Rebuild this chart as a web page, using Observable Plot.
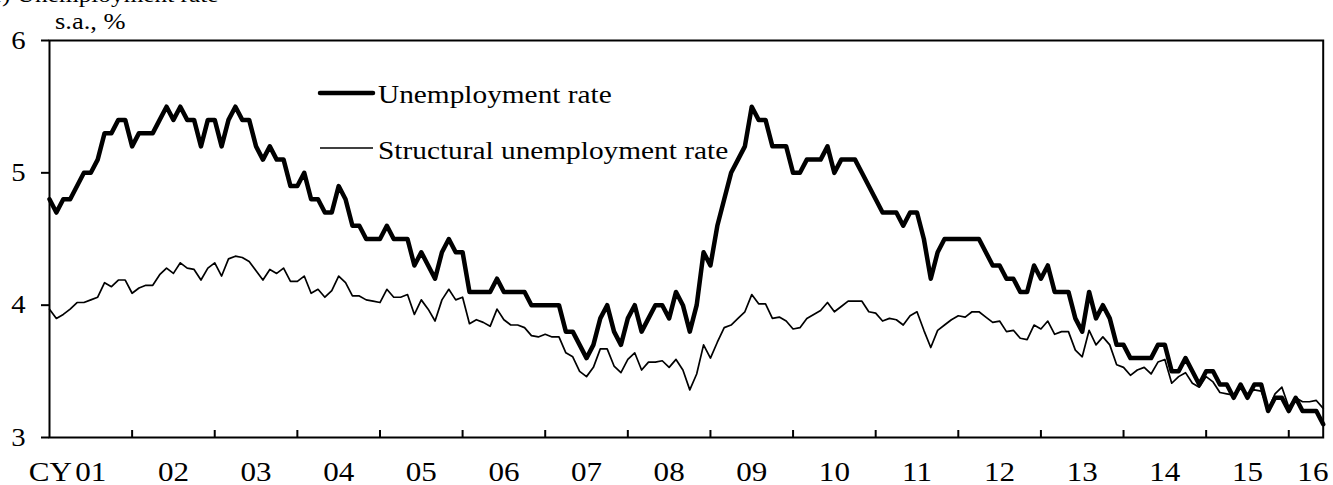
<!DOCTYPE html>
<html>
<head>
<meta charset="utf-8">
<script src="https://cdn.jsdelivr.net/npm/d3@7"></script>
<script src="https://cdn.jsdelivr.net/npm/@observablehq/plot@0.6"></script>
<style>
  html, body { margin: 0; padding: 0; background: white; }
</style>
</head>
<body>
<div id="chart"></div>
<script>
// Monthly data, Jan 2001 – Jun 2016 (s.a., %)
const unemployment = [
  4.8,4.7,4.8,4.8,4.9,5.0,5.0,5.1,5.3,5.3,5.4,5.4, // 2001
  5.2,5.3,5.3,5.3,5.4,5.5,5.4,5.5,5.4,5.4,5.2,5.4, // 2002
  5.4,5.2,5.4,5.5,5.4,5.4,5.2,5.1,5.2,5.1,5.1,4.9, // 2003
  4.9,5.0,4.8,4.8,4.7,4.7,4.9,4.8,4.6,4.6,4.5,4.5, // 2004
  4.5,4.6,4.5,4.5,4.5,4.3,4.4,4.3,4.2,4.4,4.5,4.4, // 2005
  4.4,4.1,4.1,4.1,4.1,4.2,4.1,4.1,4.1,4.1,4.0,4.0, // 2006
  4.0,4.0,4.0,3.8,3.8,3.7,3.6,3.7,3.9,4.0,3.8,3.7, // 2007
  3.9,4.0,3.8,3.9,4.0,4.0,3.9,4.1,4.0,3.8,4.0,4.4, // 2008
  4.3,4.6,4.8,5.0,5.1,5.2,5.5,5.4,5.4,5.2,5.2,5.2, // 2009
  5.0,5.0,5.1,5.1,5.1,5.2,5.0,5.1,5.1,5.1,5.0,4.9, // 2010
  4.8,4.7,4.7,4.7,4.6,4.7,4.7,4.5,4.2,4.4,4.5,4.5, // 2011
  4.5,4.5,4.5,4.5,4.4,4.3,4.3,4.2,4.2,4.1,4.1,4.3, // 2012
  4.2,4.3,4.1,4.1,4.1,3.9,3.8,4.1,3.9,4.0,3.9,3.7, // 2013
  3.7,3.6,3.6,3.6,3.6,3.7,3.7,3.5,3.5,3.6,3.5,3.4, // 2014
  3.5,3.5,3.4,3.4,3.3,3.4,3.3,3.4,3.4,3.2,3.3,3.3, // 2015
  3.2,3.3,3.2,3.2,3.2,3.1                          // 2016
];
const structural = [
  3.97,3.90,3.93,3.97,4.02,4.02,4.04,4.06,4.17,4.14,4.19,4.19, // 2001
  4.09,4.13,4.15,4.15,4.23,4.28,4.24,4.32,4.28,4.27,4.19,4.28, // 2002
  4.32,4.22,4.35,4.37,4.36,4.33,4.26,4.19,4.27,4.24,4.28,4.18, // 2003
  4.18,4.22,4.09,4.12,4.06,4.11,4.22,4.17,4.07,4.07,4.04,4.03, // 2004
  4.02,4.12,4.06,4.06,4.08,3.93,4.04,3.97,3.88,4.04,4.12,4.04, // 2005
  4.06,3.86,3.89,3.87,3.84,3.97,3.89,3.85,3.85,3.83,3.77,3.76, // 2006
  3.78,3.76,3.76,3.64,3.61,3.50,3.46,3.53,3.67,3.67,3.54,3.49, // 2007
  3.59,3.64,3.51,3.57,3.57,3.58,3.53,3.59,3.51,3.36,3.48,3.70, // 2008
  3.60,3.72,3.83,3.85,3.90,3.95,4.08,4.01,4.01,3.90,3.91,3.88, // 2009
  3.82,3.83,3.90,3.93,3.96,4.02,3.95,3.99,4.03,4.03,4.03,3.95, // 2010
  3.94,3.88,3.90,3.89,3.85,3.92,3.95,3.81,3.68,3.81,3.85,3.89, // 2011
  3.92,3.91,3.95,3.95,3.91,3.87,3.88,3.80,3.81,3.75,3.74,3.85, // 2012
  3.82,3.88,3.78,3.80,3.80,3.66,3.61,3.81,3.70,3.76,3.70,3.55, // 2013
  3.53,3.47,3.51,3.53,3.48,3.57,3.59,3.41,3.46,3.49,3.41,3.38, // 2014
  3.46,3.42,3.34,3.33,3.32,3.37,3.33,3.36,3.35,3.21,3.33,3.38, // 2015
  3.23,3.30,3.27,3.27,3.28,3.22                                // 2016
];
const yearLabels = ["01","02","03","04","05","06","07","08","09","10","11","12","13","14","15","16"];
const yTicks = [3, 4, 5, 6];
const seriesNames = ["Unemployment rate", "Structural unemployment rate"];
const unitLabel = "s.a., %";
const titleText = "(1) Unemployment rate";

const lastIndex = unemployment.length - 1;
const uRows = unemployment.map((v, i) => ({i, v}));
const sRows = structural.map((v, i) => ({i, v}));
const yearStarts = yearLabels.slice(1).map((_, k) => (k + 1) * 12);
const labelRows = yearLabels.map((label, k) => ({
  label,
  pos: Math.min(k * 12 + 6, lastIndex - 1.5)
}));

const FONT = "'Liberation Serif', 'Times New Roman', Times, serif";

const chart = Plot.plot({
  width: 1333,
  height: 485,
  marginLeft: 49,
  marginRight: 10.3,
  marginTop: 40,
  marginBottom: 48,
  style: {fontFamily: FONT, background: "white", color: "black", overflow: "visible"},
  x: {domain: [0, lastIndex], axis: null},
  y: {domain: [3, 6]},
  marks: [
    Plot.line(uRows, {x: "i", y: "v", stroke: "black", strokeWidth: 4.5, strokeLinejoin: "round"}),
    Plot.line(sRows, {x: "i", y: "v", stroke: "black", strokeWidth: 1.7, strokeLinejoin: "round"}),
    Plot.frame({stroke: "black", strokeWidth: 2}),
    Plot.tickX(yearStarts, {x: d => d, insetTop: 390, stroke: "black", strokeWidth: 2}),
    Plot.axisY({ticks: yTicks, tickSize: 8, tickPadding: 16, fontSize: 25, tickFormat: d => String(d), label: null, strokeWidth: 2}),
    Plot.text(labelRows, {x: "pos", text: "label", frameAnchor: "bottom", lineAnchor: "middle", dy: 35, fontSize: 27, fill: "black"}),
    Plot.text(labelRows.slice(0, 1), {x: "pos", text: () => "CY", frameAnchor: "bottom", lineAnchor: "middle", dy: 35, dx: -19, textAnchor: "end", fontSize: 27, fill: "black"})
  ]
});

document.getElementById("chart").appendChild(chart);

const svg = d3.select(chart);
// title, cut off at the top edge as in the reference
svg.append("text").attr("x", -19).attr("y", 2).attr("font-size", 22).attr("font-family", FONT)
  .attr("fill", "black").attr("text-anchor", "start").text(titleText);
// unit label
svg.append("text").attr("x", 55).attr("y", 29).attr("font-size", 23).attr("font-family", FONT)
  .attr("fill", "black").attr("text-anchor", "start").text(unitLabel);
// legend
const lg = svg.append("g");
lg.append("line").attr("x1", 320).attr("x2", 373).attr("y1", 93).attr("y2", 93)
  .attr("stroke", "black").attr("stroke-width", 4.5).attr("stroke-linecap", "round");
lg.append("text").attr("x", 378).attr("y", 103).attr("font-size", 25.5).attr("font-family", FONT)
  .attr("fill", "black").attr("text-anchor", "start").text(seriesNames[0]);
lg.append("line").attr("x1", 320).attr("x2", 373).attr("y1", 148).attr("y2", 148)
  .attr("stroke", "black").attr("stroke-width", 1.7);
lg.append("text").attr("x", 378).attr("y", 159).attr("font-size", 25.5).attr("font-family", FONT)
  .attr("fill", "black").attr("text-anchor", "start").text(seriesNames[1]);

// horizontally widen glyphs to match the reference's proportions
chart.querySelectorAll("text").forEach(t => {
  const L = t.getComputedTextLength();
  if (L > 0) {
    t.setAttribute("textLength", (L * 1.15).toFixed(2));
    t.setAttribute("lengthAdjust", "spacingAndGlyphs");
  }
});
</script>
</body>
</html>
